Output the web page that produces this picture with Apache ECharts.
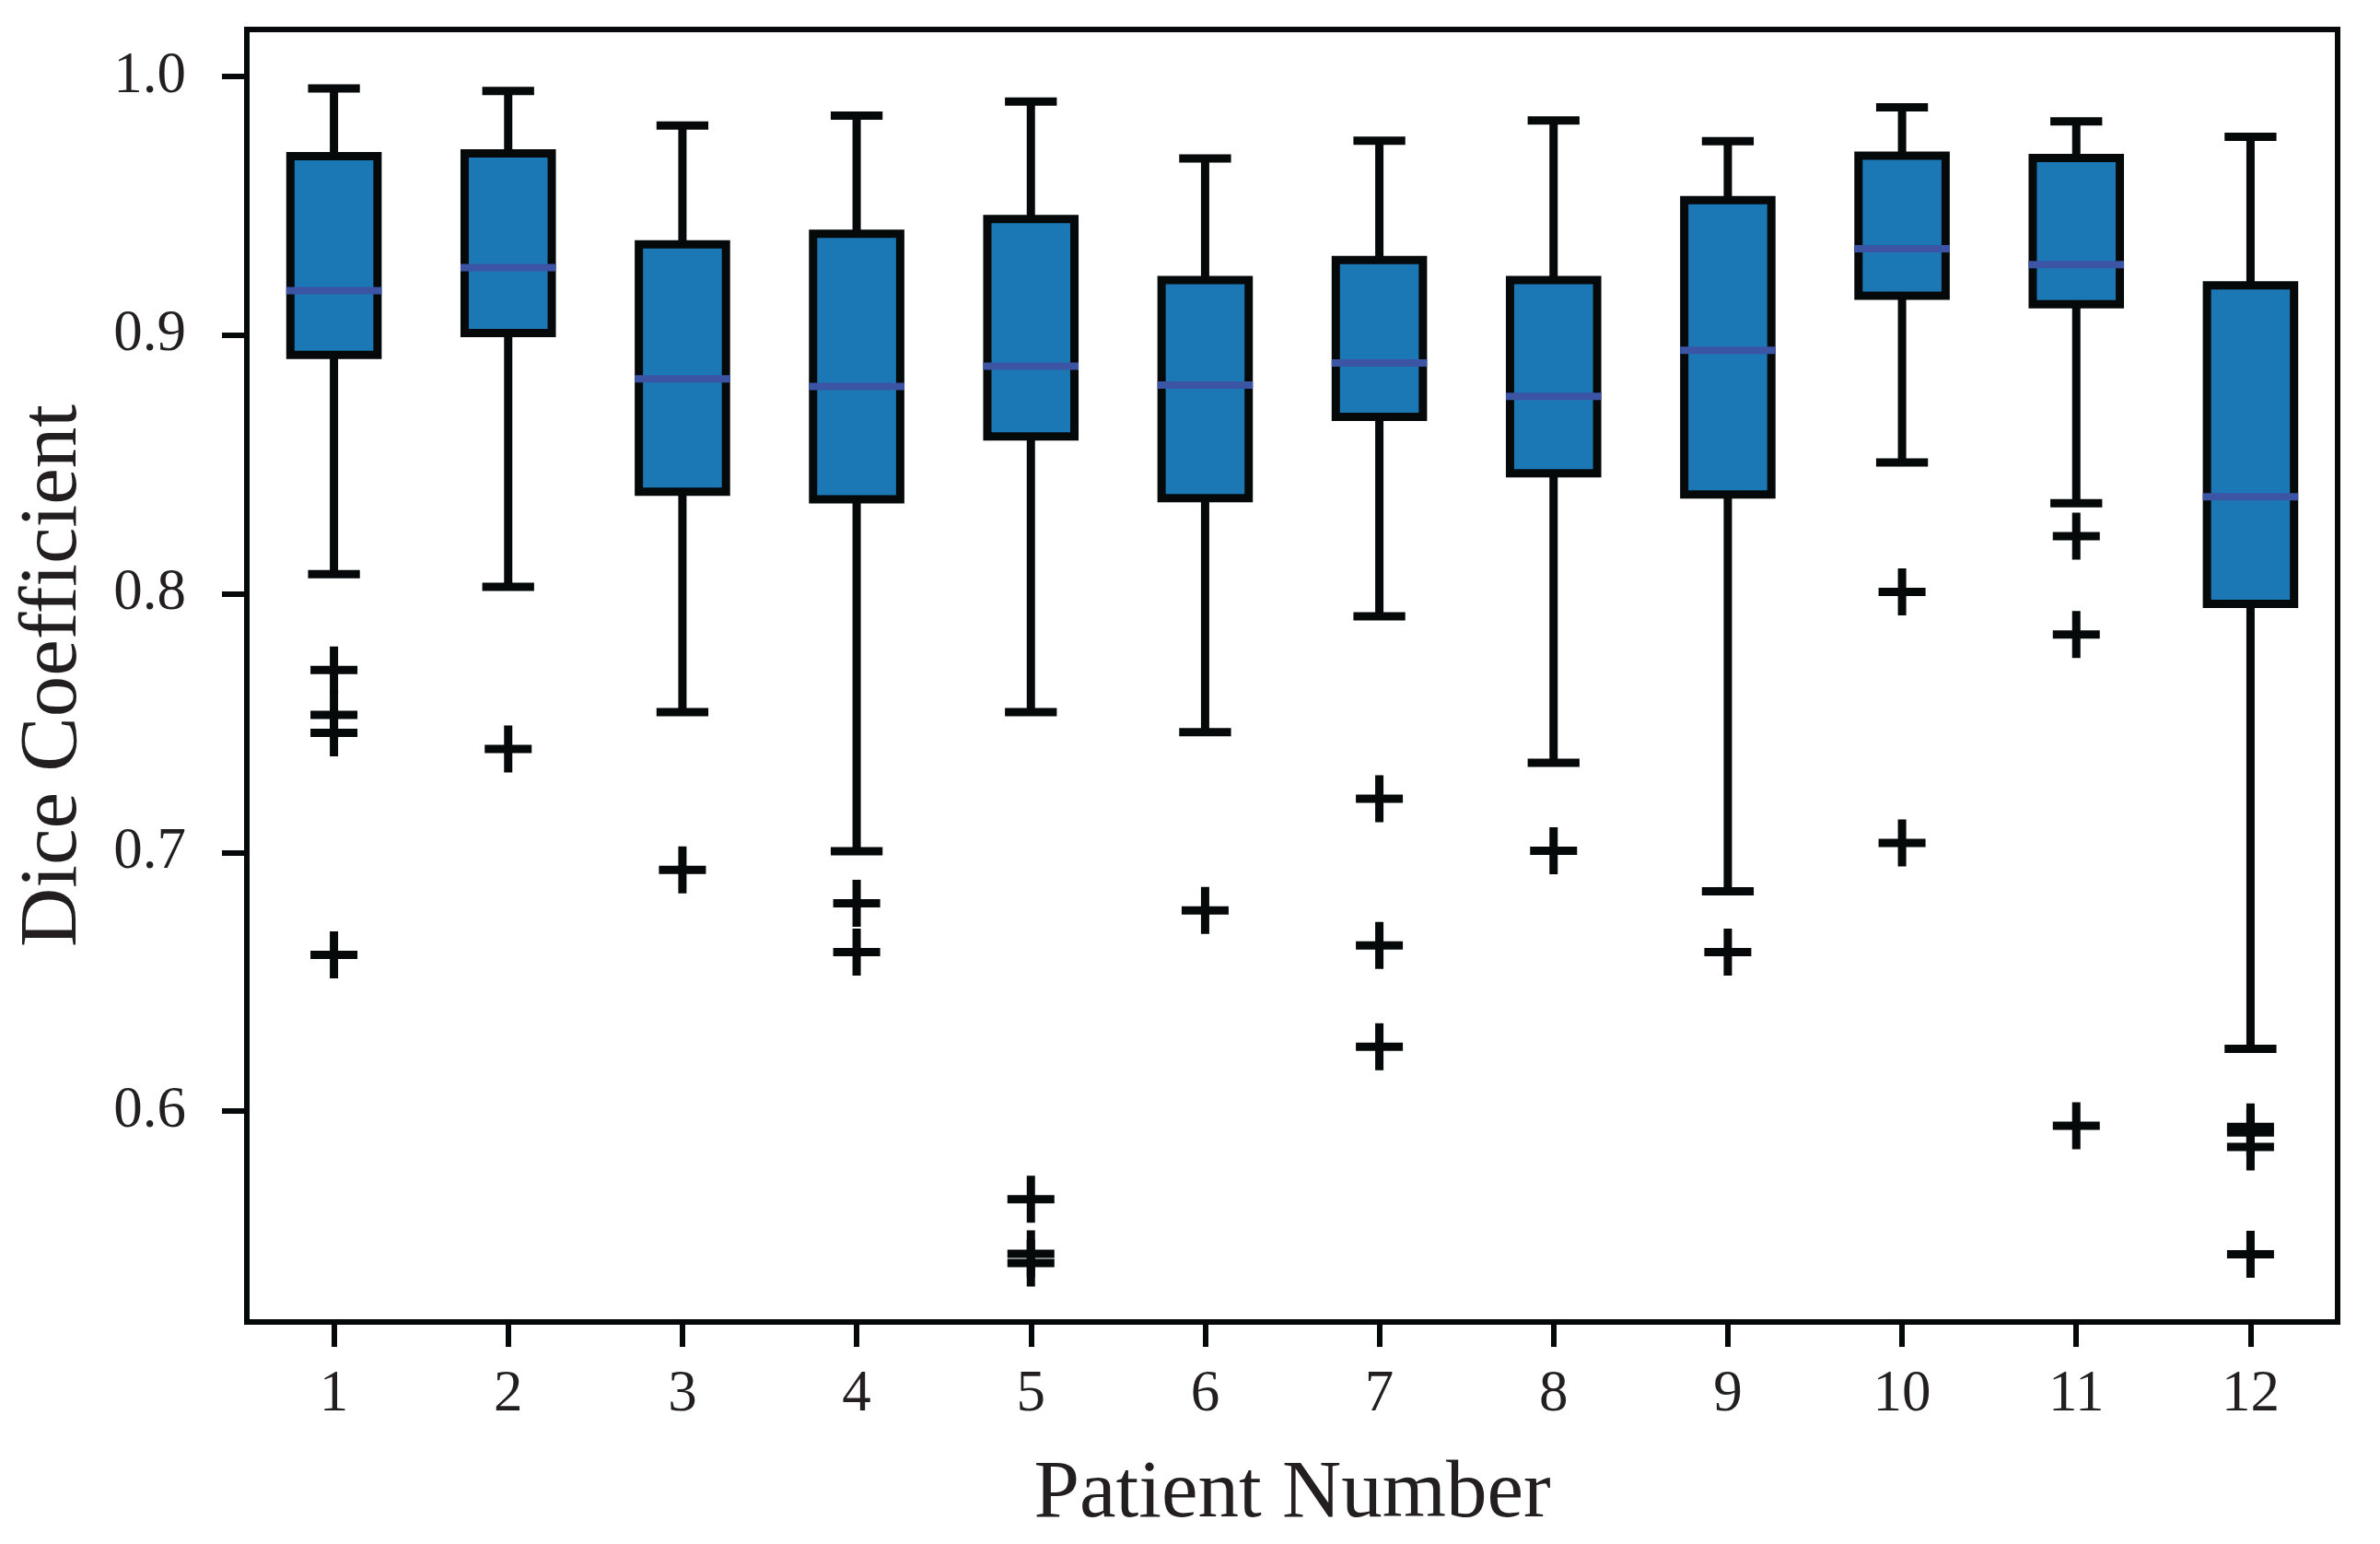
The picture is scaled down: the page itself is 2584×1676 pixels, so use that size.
<!DOCTYPE html>
<html>
<head>
<meta charset="utf-8">
<script src="https://cdn.jsdelivr.net/npm/echarts@6/dist/echarts.min.js"></script>
<style>
  html, body { margin: 0; padding: 0; background: #ffffff; }
  #chart { width: 2584px; height: 1676px; }
</style>
</head>
<body>
<div id="chart"></div>
<script>
// ---- Data ----
const patients    = ['1','2','3','4','5','6','7','8','9','10','11','12'];
const whiskerLow  = [0.8076, 0.8027, 0.7543, 0.7005, 0.7543, 0.7465, 0.7913, 0.7347, 0.6850, 0.8508, 0.8350, 0.6241];
const q1          = [0.8924, 0.9008, 0.8395, 0.8366, 0.8609, 0.8370, 0.8684, 0.8466, 0.8384, 0.9153, 0.9120, 0.7961];
const median      = [0.9172, 0.9261, 0.8831, 0.8802, 0.8880, 0.8807, 0.8893, 0.8764, 0.8942, 0.9334, 0.9273, 0.8375];
const q3          = [0.9692, 0.9703, 0.9351, 0.9392, 0.9449, 0.9213, 0.9291, 0.9213, 0.9522, 0.9694, 0.9685, 0.9193];
const whiskerHigh = [0.9954, 0.9944, 0.9811, 0.9849, 0.9903, 0.9683, 0.9752, 0.9830, 0.9750, 0.9881, 0.9827, 0.9767];
const outliers = [
  [0.7706, 0.7532, 0.7463, 0.6604],
  [0.7400],
  [0.6933],
  [0.6804, 0.6615],
  [0.5660, 0.5449, 0.5413],
  [0.6776],
  [0.7208, 0.6641, 0.6249],
  [0.7007],
  [0.6615],
  [0.8008, 0.7037],
  [0.8223, 0.7843, 0.5944],
  [0.5939, 0.5918, 0.5862, 0.5447]
];
const yTicks = [0.6, 0.7, 0.8, 0.9, 1.0];
const yMin = 0.5185, yMax = 1.0182;

// ---- Styles ----
const LINE = '#050909';
const TEXT = '#231f20';
const BOX_FILL = '#1c78b5';
const MEDIAN = '#3c54a4';
const FONT = 'Liberation Serif';

const boxData = patients.map((p, i) => [i, whiskerLow[i], q1[i], median[i], q3[i], whiskerHigh[i]]);
const outlierData = [];
outliers.forEach((arr, i) => arr.forEach(v => outlierData.push([i, v])));

const chart = echarts.init(document.getElementById('chart'), null, { renderer: 'canvas' });
chart.setOption({
  animation: false,
  backgroundColor: '#ffffff',
  grid: {
    left: 268, right: 46, top: 32, bottom: 241,
    show: true, borderColor: LINE, borderWidth: 6, backgroundColor: 'transparent'
  },
  xAxis: {
    type: 'category',
    data: patients,
    boundaryGap: true,
    name: 'Patient Number',
    nameLocation: 'middle',
    nameGap: 143,
    nameTextStyle: { fontFamily: FONT, fontSize: 89, color: TEXT },
    axisLine: { show: true, lineStyle: { color: LINE, width: 6 } },
    axisTick: { show: true, alignWithLabel: true, length: 27, lineStyle: { color: LINE, width: 6 } },
    axisLabel: { fontFamily: FONT, fontSize: 63, color: TEXT, margin: 48 },
    splitLine: { show: false }
  },
  yAxis: {
    type: 'value',
    min: yMin,
    max: yMax,
    name: 'Dice Coefficient',
    nameLocation: 'middle',
    nameGap: 165,
    nameTextStyle: { fontFamily: FONT, fontSize: 89, color: TEXT },
    axisLine: { show: true, lineStyle: { color: LINE, width: 6 } },
    axisTick: { show: true, length: 27, lineStyle: { color: LINE, width: 6 }, customValues: yTicks },
    axisLabel: {
      fontFamily: FONT, fontSize: 63, color: TEXT, margin: 66,
      customValues: yTicks,
      formatter: v => v.toFixed(1)
    },
    splitLine: { show: false }
  },
  series: [
    {
      type: 'custom',
      data: boxData,
      encode: { x: 0, y: [1, 2, 3, 4, 5] },
      renderItem: function (params, api) {
        const idx = api.value(0);
        const pLow = api.coord([idx, api.value(1)]);
        const pQ1 = api.coord([idx, api.value(2)]);
        const pMed = api.coord([idx, api.value(3)]);
        const pQ3 = api.coord([idx, api.value(4)]);
        const pHigh = api.coord([idx, api.value(5)]);
        const band = api.size([1, 0])[0];
        const halfBox = band * 0.25;
        const halfCap = band * 0.125 + 4.5;
        const cx = pQ1[0];
        const ls = { stroke: LINE, lineWidth: 9, fill: null };
        return {
          type: 'group',
          children: [
            { type: 'line', shape: { x1: cx, y1: pQ3[1], x2: cx, y2: pHigh[1] }, style: ls },
            { type: 'line', shape: { x1: cx, y1: pQ1[1], x2: cx, y2: pLow[1] }, style: ls },
            { type: 'line', shape: { x1: cx - halfCap, y1: pHigh[1], x2: cx + halfCap, y2: pHigh[1] }, style: ls },
            { type: 'line', shape: { x1: cx - halfCap, y1: pLow[1], x2: cx + halfCap, y2: pLow[1] }, style: ls },
            { type: 'rect', shape: { x: cx - halfBox, y: pQ3[1], width: 2 * halfBox, height: pQ1[1] - pQ3[1] },
              style: { fill: BOX_FILL, stroke: LINE, lineWidth: 9 } },
            { type: 'line', shape: { x1: cx - halfBox - 4.5, y1: pMed[1], x2: cx + halfBox + 4.5, y2: pMed[1] },
              style: { stroke: MEDIAN, lineWidth: 8 } }
          ]
        };
      },
      z: 2
    },
    {
      type: 'scatter',
      data: outlierData,
      symbol: 'path://M21,0 H30 V21 H51 V30 H30 V51 H21 V30 H0 V21 H21 Z',
      symbolSize: 51,
      itemStyle: { color: LINE, opacity: 1 },
      z: 3
    }
  ]
});
</script>
</body>
</html>
